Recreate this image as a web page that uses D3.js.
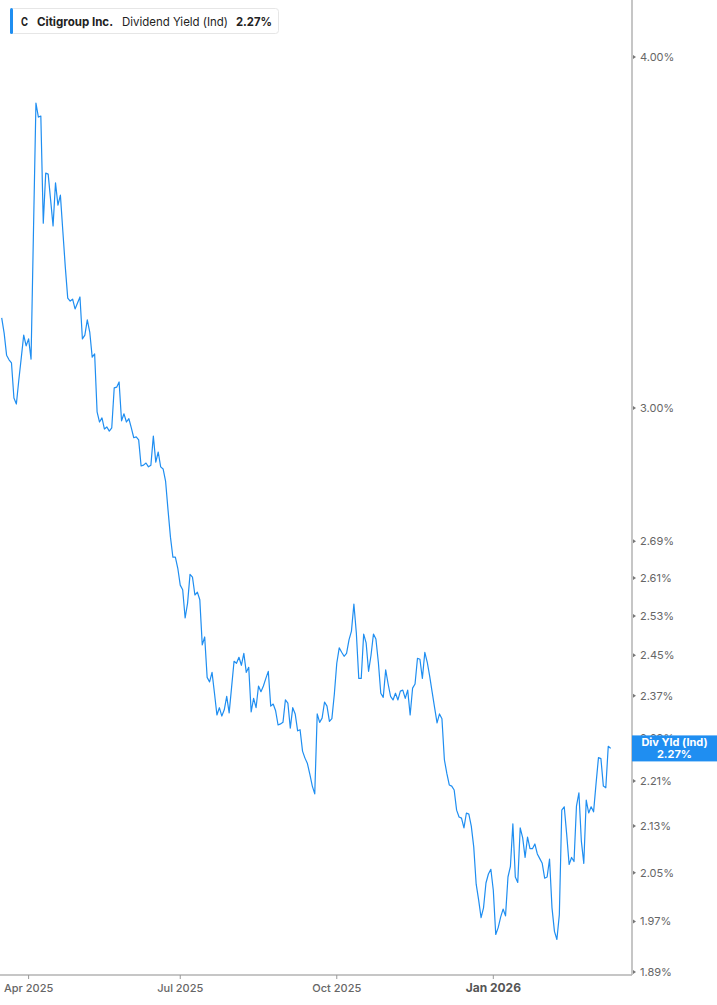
<!DOCTYPE html>
<html>
<head>
<meta charset="utf-8">
<script src="https://cdn.jsdelivr.net/npm/d3@7/dist/d3.min.js"></script>
<style>
  html, body { margin: 0; padding: 0; background: #fff; }
  body { font-family: Inter, "Noto Sans", sans-serif; }
</style>
</head>
<body>
<div id="chart"></div>
<script>
// dividend yield (%), one value per trading day, Mar 14 2025 -> Mar 13 2026
const yieldVals = [
  3.230, 3.190, 3.133, 3.121, 3.113, 3.025, 3.010, 3.070, 3.126, 3.185,
  3.157, 3.175, 3.123, 3.471, 3.852, 3.808, 3.811, 3.491, 3.637, 3.634,
  3.558, 3.483, 3.608, 3.543, 3.572, 3.468, 3.368, 3.283, 3.275, 3.280,
  3.254, 3.270, 3.286, 3.175, 3.185, 3.225, 3.193, 3.128, 3.136, 2.991,
  2.966, 2.976, 2.949, 2.954, 2.944, 2.952, 3.050, 3.052, 3.065, 2.969,
  2.986, 2.966, 2.974, 2.952, 2.928, 2.930, 2.923, 2.861, 2.863, 2.868,
  2.859, 2.863, 2.932, 2.870, 2.894, 2.859, 2.854, 2.826, 2.760, 2.699,
  2.655, 2.655, 2.631, 2.595, 2.585, 2.526, 2.557, 2.618, 2.612, 2.574,
  2.580, 2.564, 2.471, 2.487, 2.406, 2.397, 2.416, 2.375, 2.333, 2.347,
  2.331, 2.343, 2.369, 2.337, 2.387, 2.438, 2.434, 2.446, 2.430, 2.454,
  2.416, 2.426, 2.339, 2.365, 2.347, 2.389, 2.378, 2.389, 2.404, 2.418,
  2.350, 2.354, 2.341, 2.314, 2.316, 2.319, 2.362, 2.356, 2.308, 2.347,
  2.335, 2.303, 2.305, 2.265, 2.252, 2.242, 2.222, 2.201, 2.187, 2.335,
  2.319, 2.327, 2.358, 2.350, 2.321, 2.326, 2.373, 2.434, 2.465, 2.456,
  2.448, 2.454, 2.481, 2.499, 2.555, 2.495, 2.404, 2.404, 2.493, 2.475,
  2.418, 2.450, 2.493, 2.483, 2.436, 2.375, 2.367, 2.421, 2.393, 2.369,
  2.362, 2.375, 2.362, 2.379, 2.381, 2.365, 2.381, 2.333, 2.385, 2.393,
  2.444, 2.442, 2.404, 2.456, 2.436, 2.408, 2.377, 2.347, 2.318, 2.335,
  2.326, 2.249, 2.224, 2.203, 2.201, 2.194, 2.158, 2.146, 2.144, 2.127,
  2.153, 2.151, 2.130, 2.094, 2.031, 2.005, 1.976, 1.992, 2.033, 2.048,
  2.056, 2.021, 1.949, 1.960, 1.977, 1.990, 1.979, 2.043, 2.061, 2.134,
  2.043, 2.034, 2.127, 2.110, 2.076, 2.111, 2.091, 2.091, 2.099, 2.082,
  2.074, 2.066, 2.041, 2.043, 2.073, 1.992, 1.954, 1.941, 1.981, 2.158,
  2.164, 2.116, 2.064, 2.076, 2.069, 2.165, 2.189, 2.104, 2.066, 2.176,
  2.153, 2.164, 2.155, 2.205, 2.253, 2.251, 2.201, 2.198, 2.274, 2.270
];

// x ticks: trading-day index of first session of each quarter
const xTickLabels = ["Apr 2025", "Jul 2025", "Oct 2025", "Jan 2026"];
const xTickIdx = [11, 73, 137, 201];

const yTickVals = [4.00, 3.00, 2.69, 2.61, 2.53, 2.45, 2.37, 2.29, 2.21, 2.13, 2.05, 1.97, 1.89];

const ticker = "C";
const company = "Citigroup Inc.";
const metric = "Dividend Yield (Ind)";
const lastVal = yieldVals[yieldVals.length - 1];

const W = 717, H = 1005;
const plotRight = 632, plotBottom = 975;
const blue = "#1f8ef1";
const axisGrey = "#b3b3b3";

const svg = d3.select("#chart").append("svg")
  .attr("width", W).attr("height", H)
  .style("display", "block");

const x = d3.scaleLinear().domain([0, yieldVals.length - 1]).range([1.7, 610.7]);
const y = d3.scaleLog().domain([1.89, 4.00]).range([972, 57]);

// line
const line = d3.line()
  .x((d, i) => x(i))
  .y(d => y(d));

svg.append("defs").append("clipPath").attr("id", "clip")
  .append("rect").attr("x", 0).attr("y", 0).attr("width", plotRight).attr("height", plotBottom);

svg.append("path")
  .datum(yieldVals)
  .attr("clip-path", "url(#clip)")
  .attr("fill", "none")
  .attr("stroke", blue)
  .attr("stroke-width", 1.2)
  .attr("stroke-linejoin", "round")
  .attr("d", line);

// x axis
const xAxis = svg.append("g").attr("transform", "translate(0," + plotBottom + ")");
xAxis.append("line")
  .attr("x1", 0).attr("x2", plotRight)
  .attr("stroke", axisGrey).attr("stroke-width", 1.5);
const xt = xAxis.selectAll("g.xt")
  .data(xTickIdx)
  .enter().append("g")
  .attr("class", "xt")
  .attr("transform", d => "translate(" + x(d) + ",0)");
xt.append("line").attr("y1", 0).attr("y2", 4).attr("stroke", "#999").attr("stroke-width", 1);
xt.append("text")
  .attr("y", 17)
  .attr("text-anchor", "middle")
  .attr("font-size", (d, i) => i === 3 ? 12 : 11)
  .attr("font-weight", (d, i) => i === 3 ? 700 : 500)
  .attr("fill", (d, i) => i === 3 ? "#555" : "#666")
  .text((d, i) => xTickLabels[i]);

// y axis (right)
const yAxis = svg.append("g").attr("transform", "translate(" + plotRight + ",0)");
yAxis.append("line")
  .attr("y1", 0).attr("y2", plotBottom)
  .attr("stroke", axisGrey).attr("stroke-width", 1.5);
const yt = yAxis.selectAll("g.yt")
  .data(yTickVals)
  .enter().append("g")
  .attr("class", "yt")
  .attr("transform", d => "translate(0," + y(d) + ")");
yt.append("path").attr("d", "M1,-2L4,0L1,2Z").attr("fill", "#777");
yt.append("text")
  .attr("x", 8)
  .attr("dy", "0.35em")
  .attr("font-size", 11)
  .attr("fill", "#666")
  .text(d => d.toFixed(2) + "%");

// last value flag
const flag = svg.append("g").attr("transform", "translate(" + plotRight + "," + y(lastVal) + ")");
flag.append("rect")
  .attr("x", 0).attr("y", -13).attr("width", W - plotRight).attr("height", 26)
  .attr("fill", blue);
flag.append("text")
  .attr("x", (W - plotRight) / 2).attr("y", -2)
  .attr("text-anchor", "middle").attr("font-size", 11).attr("font-weight", 700)
  .attr("fill", "#fff").text("Div Yld (Ind)");
flag.append("text")
  .attr("x", (W - plotRight) / 2).attr("y", 10)
  .attr("text-anchor", "middle").attr("font-size", 11).attr("font-weight", 700)
  .attr("fill", "#fff").text(lastVal.toFixed(2) + "%");

// legend
const legend = svg.append("g").attr("transform", "translate(10,8)");
legend.append("rect")
  .attr("x", 0.5).attr("y", 0.5).attr("width", 268).attr("height", 25).attr("rx", 3)
  .attr("fill", "#fff").attr("stroke", "#e6e6e6");
legend.append("rect")
  .attr("x", 0).attr("y", 0).attr("width", 3).attr("height", 26).attr("rx", 1.5)
  .attr("fill", blue);
const legendParts = [
  { t: ticker, x: 11, w: 7, bold: true },
  { t: company, x: 27, w: 76, bold: true },
  { t: metric, x: 112, w: 106, bold: false },
  { t: lastVal.toFixed(2) + "%", x: 226, w: 36, bold: true }
];
legend.selectAll("text.lg")
  .data(legendParts)
  .enter().append("text")
  .attr("class", "lg")
  .attr("x", d => d.x)
  .attr("y", 17.5)
  .attr("font-size", 12)
  .attr("font-weight", d => d.bold ? 700 : 400)
  .attr("fill", "#222")
  .attr("textLength", d => d.w)
  .attr("lengthAdjust", "spacingAndGlyphs")
  .text(d => d.t);
</script>
</body>
</html>
